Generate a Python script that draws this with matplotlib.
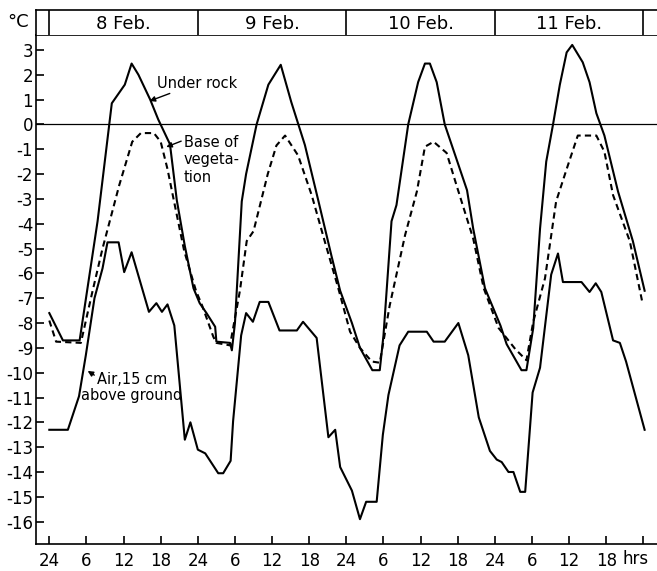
import matplotlib
matplotlib.use('Agg')
import matplotlib.pyplot as plt
import matplotlib.transforms as mtransforms

# hours counted from 24.00 on 7 Feb
rock_hours = [0, 2.2, 4.9, 7.8, 10.1, 12.2, 13.3, 14.4, 16.3, 17.6, 19.5, 20.6, 21.9, 23.3, 24.3,
              25.4, 26.8, 27.0, 29.2, 29.5, 30.0, 31.1, 31.8, 33.5, 35.4, 37.4, 39.1, 41.3, 43.5,
              45.6, 47.0, 48.9, 50.2, 52.2, 53.4, 54.0, 55.3, 56.1, 58.0, 59.6, 60.7, 61.5, 62.6,
              63.9, 65.6, 67.5, 68.5, 70.4, 72.9, 73.9, 76.3, 77.1, 78.2, 79.3, 80.3, 81.4, 82.5,
              83.6, 84.5, 86.2, 87.3, 88.4, 89.7, 91.9, 94.3, 96.2]
rock_temp = [-7.6, -8.7, -8.7, -3.9, 0.85, 1.6, 2.45, 2.0, 1.0, 0.2, -0.8, -3.05, -4.9, -6.6, -7.2,
             -7.6, -8.15, -8.75, -8.8, -9.1, -8.0, -3.1, -2.0, 0.0, 1.6, 2.4, 0.9, -0.83, -3.1,
             -5.3, -6.7, -8.0, -9.0, -9.9, -9.9, -8.5, -3.9, -3.25, 0.0, 1.7, 2.45, 2.45, 1.7,
             0.0, -1.25, -2.65, -4.2, -6.6, -8.1, -8.85, -9.9, -9.9, -8.2, -4.2, -1.5, 0.0, 1.6,
             2.9, 3.2, 2.5, 1.7, 0.45, -0.45, -2.7, -4.7, -6.7]

veg_hours = [0, 1.1, 5.1, 7.0, 8.6, 11.3, 13.4, 14.8, 16.9, 18.0, 19.1, 20.4, 21.8, 23.7, 24.7,
             26.5, 27.0, 29.2, 30.8, 31.9, 33.0, 35.3, 36.7, 38.1, 40.2, 42.4, 44.5, 46.7, 48.6,
             50.2, 52.1, 53.4, 55.0, 57.5, 59.4, 60.7, 62.1, 64.2, 65.8, 68.5, 70.2, 72.6, 75.3,
             77.1, 78.2, 80.1, 81.9, 83.6, 85.4, 88.4, 89.7, 91.1, 93.8, 95.9]
veg_temp = [-7.9, -8.75, -8.8, -6.7, -5.0, -2.45, -0.7, -0.35, -0.35, -0.7, -1.8, -3.4, -5.1, -6.7, -7.3,
            -8.55, -8.8, -8.9, -6.7, -4.7, -4.3, -2.0, -0.85, -0.45, -1.25, -2.85, -4.7, -6.6, -8.35,
            -9.0, -9.55, -9.6, -7.3, -4.45, -2.7, -0.9, -0.7, -1.15, -2.45, -4.6, -6.6, -8.2, -9.05,
            -9.5, -7.95, -6.2, -3.1, -1.8, -0.45, -0.45, -1.1, -2.85, -4.7, -7.25]

air_hours = [0, 3.0, 4.8, 5.9, 7.3, 8.6, 9.4, 11.2, 12.1, 13.3, 16.1, 17.3, 18.2, 19.1, 20.2, 21.9,
             22.8, 24.0, 25.2, 27.3, 28.1, 29.3, 29.7, 31.0, 31.8, 32.9, 34.0, 35.4, 37.2, 40.0,
             41.0, 43.2, 45.1, 46.2, 47.0, 48.9, 50.2, 51.2, 52.9, 53.9, 54.8, 56.6, 58.0, 61.0,
             62.1, 63.9, 66.1, 67.7, 69.4, 71.2, 72.3, 73.1, 74.2, 75.0, 76.1, 76.9, 78.1, 79.3,
             81.1, 82.2, 83.0, 86.0, 87.3, 88.3, 89.2, 91.1, 92.2, 93.2, 96.2]
air_temp = [-12.3, -12.3, -10.95, -9.3, -7.0, -5.8, -4.75, -4.75, -5.95, -5.15, -7.55, -7.2, -7.55, -7.25, -8.1, -12.7,
            -12.0, -13.1, -13.25, -14.05, -14.05, -13.55, -11.95, -8.5, -7.6, -7.95, -7.15, -7.15, -8.3, -8.3,
            -7.95, -8.6, -12.6, -12.3, -13.8, -14.75, -15.9, -15.2, -15.2, -12.5, -10.9, -8.9, -8.35, -8.35,
            -8.75, -8.75, -8.0, -9.3, -11.8, -13.15, -13.5, -13.6, -14.0, -14.0, -14.8, -14.8, -10.8, -9.8,
            -6.05, -5.2, -6.35, -6.35, -6.75, -6.4, -6.75, -8.7, -8.8, -9.55, -12.3]

days = ['8 Feb.', '9 Feb.', '10 Feb.', '11 Feb.']
hour_ticks = list(range(0, 97, 6))
hour_labels = ['24', '6', '12', '18'] * 4 + ['']
temp_ticks = list(range(-16, 4))

plt.rcParams['font.family'] = 'DejaVu Sans'

fig = plt.figure(figsize=(6.57, 5.71), dpi=100)
left = 36 / 657
ax = fig.add_axes([left, 27 / 571, 1 - left, 509 / 571])
head = fig.add_axes([left, 1 - 35 / 571, 1 - left, 25 / 571])

xlim = (-2.15, 98.2)

ax.plot(rock_hours, rock_temp, color='black', lw=1.5)
ax.plot(veg_hours, veg_temp, color='black', lw=1.5, linestyle=(0, (3, 2)))
ax.plot(air_hours, air_temp, color='black', lw=1.5)
ax.axhline(0, color='black', lw=0.9)

ax.set_xlim(*xlim)
ax.set_ylim(-16.9, 3.6)
ax.set_xticks(hour_ticks)
ax.set_xticklabels(hour_labels)
ax.set_yticks(temp_ticks)
ax.set_yticklabels([str(t) for t in temp_ticks])
ax.tick_params(direction='in', length=6, width=1.2, labelsize=12)
ax.tick_params(axis='x', pad=6)
ax.tick_params(axis='y', pad=2)
ax.spines['right'].set_visible(False)
for s in ['left', 'bottom', 'top']:
    ax.spines[s].set_linewidth(1.2)

trans = mtransforms.blended_transform_factory(ax.transData, ax.transAxes)
ax.text(94.8, -0.012, 'hrs', transform=trans, ha='center', va='top', fontsize=12)

# labels on the curves
ax.annotate('Under rock', xy=(16.2, 0.94), xytext=(17.4, 1.66), fontsize=10.5,
            ha='left', va='center',
            arrowprops=dict(arrowstyle='-|>', color='black', lw=1, shrinkA=0, shrinkB=0,
                            mutation_scale=8))
ax.annotate('Base of\nvegeta-\ntion', xy=(18.9, -0.91), xytext=(21.76, -0.43), fontsize=10.5,
            ha='left', va='top', linespacing=1.2,
            arrowprops=dict(arrowstyle='-|>', color='black', lw=1, shrinkA=0, shrinkB=0,
                            mutation_scale=8, relpos=(0, 0.9)))
ax.annotate('Air,15 cm', xy=(6.2, -9.93), xytext=(7.72, -10.29), fontsize=10.5,
            ha='left', va='center',
            arrowprops=dict(arrowstyle='-|>', color='black', lw=1, shrinkA=0, shrinkB=0,
                            mutation_scale=8, relpos=(0, 0.7)))
ax.text(5.12, -10.9, 'above ground', fontsize=10.5, ha='left', va='center')

# date header
head.set_xlim(*xlim)
head.set_ylim(0, 1)
head.set_xticks([])
head.set_yticks([])
head.spines['right'].set_visible(False)
head.spines['bottom'].set_visible(False)
for s in ['left', 'top']:
    head.spines[s].set_linewidth(1.2)
for h in [0, 24, 48, 72, 96]:
    head.axvline(h, color='black', lw=1.2)
for i, d in enumerate(days):
    head.text(12 + 24 * i, 0.45, d, ha='center', va='center', fontsize=13)
fig.text(7 / 657, 1 - 22 / 571, '°C', ha='left', va='center', fontsize=13)

fig.savefig('out.png', dpi=100)
